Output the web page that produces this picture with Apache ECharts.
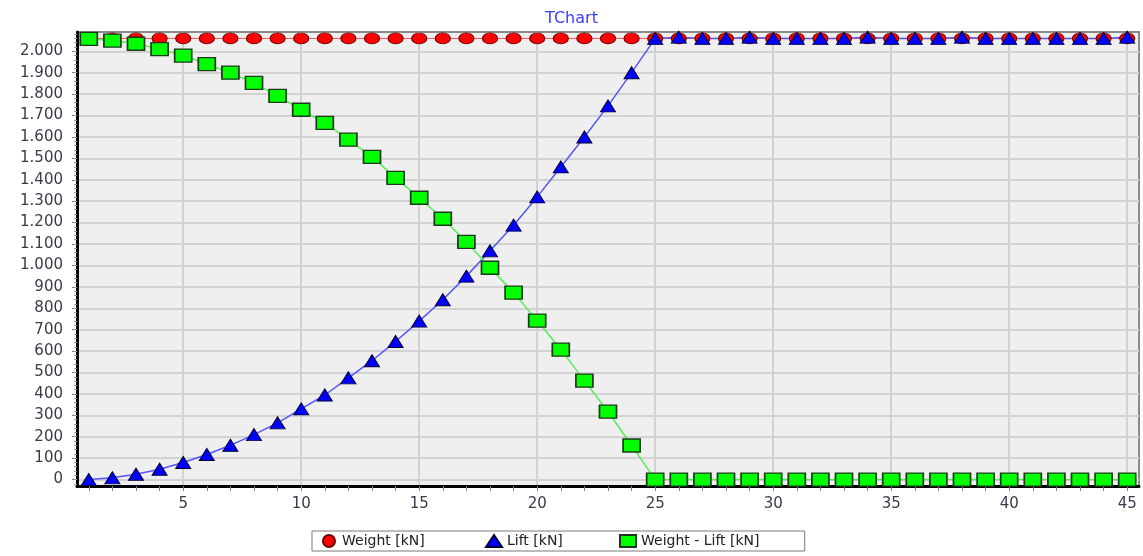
<!DOCTYPE html>
<html>
<head>
<meta charset="utf-8">
<script src="https://cdn.jsdelivr.net/npm/echarts@6/dist/echarts.min.js"></script>
<style>
html,body{margin:0;padding:0;background:#fff;}
#chart{width:1143px;height:556px;}
</style>
</head>
<body>
<div id="chart"></div>
<script>
const xValues = [1,2,3,4,5,6,7,8,9,10,11,12,13,14,15,16,17,18,19,20,21,22,23,24,25,26,27,28,29,30,31,32,33,34,35,36,37,38,39,40,41,42,43,44,45];
const weight = [2060,2060,2060,2060,2060,2060,2060,2060,2060,2060,2060,2060,2060,2060,2060,2060,2060,2060,2060,2060,2060,2060,2060,2060,2060,2060,2060,2060,2060,2060,2060,2060,2060,2060,2060,2060,2060,2060,2060,2060,2060,2060,2060,2060,2060];
const lift = [0,8,25,48,80,117,160,210,265,330,395,475,555,645,740,840,950,1068,1188,1320,1460,1600,1745,1900,2060,2066,2060,2060,2066,2060,2060,2060,2060,2066,2060,2060,2060,2066,2060,2060,2060,2060,2060,2060,2066];
const weightMinusLift = [2058,2050,2035,2010,1980,1940,1900,1852,1792,1727,1666,1587,1507,1409,1316,1218,1110,989,873,742,607,462,317,159,0,0,0,0,0,0,0,0,0,0,0,0,0,0,0,0,0,0,0,0,0];
const xTicks = [5,10,15,20,25,30,35,40,45];
const yTicks = [0,100,200,300,400,500,600,700,800,900,1000,1100,1200,1300,1400,1500,1600,1700,1800,1900,2000];
const seriesNames = ['Weight [kN]', 'Lift [kN]', 'Weight - Lift [kN]'];
const legendIcons = ['circle', 'triangle', 'rect'];

function pairs(arr){ return arr.map((v,i)=>[xValues[i], v]); }
function fmt(v){
  if (v >= 1000) { const t = Math.floor(v/1000); const r = v % 1000; return t + '.' + String(r).padStart(3,'0'); }
  return String(v);
}
const FONT = '"DejaVu Sans", Verdana, sans-serif';
const legendBase = {
  top: 531, itemWidth: 16, itemHeight: 12, borderRadius: 0,
  textStyle: {color: '#202020', fontSize: 14, fontFamily: FONT},
  lineStyle: {opacity: 0}
};
const legendLefts = [312, 485, 619];
const legends = seriesNames.map((n, i) => Object.assign({}, legendBase, {
  left: legendLefts[i],
  padding: i === 0 ? [3, 380, 3, 10] : [3, 0, 3, 0],
  backgroundColor: i === 0 ? '#ffffff' : 'transparent',
  borderColor: '#7a7a7a', borderWidth: i === 0 ? 1 : 0,
  z: 4 + i,
  data: [{name: n, icon: legendIcons[i]}]
}));

const chart = echarts.init(document.getElementById('chart'), null, {renderer:'canvas'});
chart.setOption({
  animation: false,
  backgroundColor: '#ffffff',
  title: {
    text: 'TChart', left: 'center', top: 6,
    textStyle: {color: '#3c3cff', fontSize: 16, fontWeight: 'normal', fontFamily: FONT}
  },
  grid: {
    left: 77, top: 32, width: 1062, height: 454,
    show: true, backgroundColor: '#efefef', borderColor: '#8a8a8a', borderWidth: 2
  },
  legend: legends,
  xAxis: {
    type: 'value', min: 0.5, max: 45.5, interval: 1,
    axisLine: {show: true, onZero: false, lineStyle: {color: '#000', width: 3}},
    axisTick: {show: true, length: 5, customValues: xTicks, lineStyle: {color: '#808080'}},
    minorTick: {show: true, splitNumber: 2, length: 5, lineStyle: {color: '#808080'}},
    axisLabel: {customValues: xTicks, margin: 11, color: '#3a3a4a', fontSize: 15, fontFamily: FONT},
    splitLine: {show: true, lineStyle: {color: '#d2d2d2', width: 2}}
  },
  yAxis: {
    type: 'value', min: -30, max: 2090, interval: 20,
    axisLine: {show: true, onZero: false, lineStyle: {color: '#000', width: 3}},
    axisTick: {show: true, length: 5, customValues: yTicks, lineStyle: {color: '#808080'}},
    minorTick: {show: true, splitNumber: 2, length: 3, lineStyle: {color: '#9a9a9a'}},
    axisLabel: {customValues: yTicks, margin: 14, color: '#3a3a4a', fontSize: 15, fontFamily: FONT, formatter: fmt},
    splitLine: {show: true, lineStyle: {color: '#d2d2d2', width: 2}}
  },
  series: [
    {
      name: seriesNames[0], type: 'line', data: pairs(weight), clip: false,
      symbol: 'circle', symbolSize: [15, 11],
      lineStyle: {color: '#ff5050', width: 1},
      itemStyle: {color: '#ff0000', borderColor: '#6a0000', borderWidth: 1}
    },
    {
      name: seriesNames[1], type: 'line', data: pairs(lift), clip: false,
      symbol: 'triangle', symbolSize: [15, 12],
      lineStyle: {color: '#5555ff', width: 1.5},
      itemStyle: {color: '#0000ff', borderColor: '#000033', borderWidth: 1}
    },
    {
      name: seriesNames[2], type: 'line', data: pairs(weightMinusLift), clip: false,
      symbol: 'rect', symbolSize: [17, 13],
      lineStyle: {color: '#55ee55', width: 1.5},
      itemStyle: {color: '#00ff00', borderColor: '#1a3a1a', borderWidth: 1.5}
    }
  ]
});
</script>
</body>
</html>
